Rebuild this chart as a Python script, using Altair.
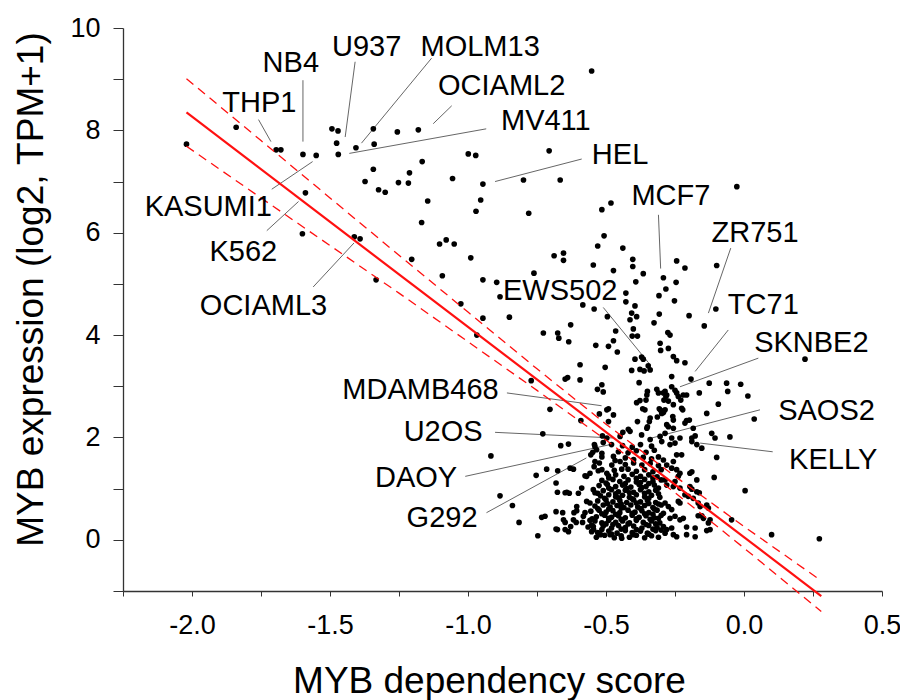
import altair as alt
import pandas as pd

# ---------------- data ----------------
points_upper_left = [
    (-2.02, 7.73), (-1.84, 8.06), (-1.695, 7.62), (-1.678, 7.62), (-1.598, 7.53), (-1.550, 7.51), (-1.589, 6.78), (-1.600, 5.98),
    (-1.493, 8.03), (-1.471, 7.99), (-1.476, 7.75), (-1.470, 7.53), (-1.406, 7.66), (-1.343, 8.03), (-1.340, 7.73), (-1.256, 7.97),
    (-1.180, 8.01), (-1.343, 7.24), (-1.373, 7.00), (-1.324, 6.84), (-1.300, 6.79), (-1.252, 6.98), (-1.216, 6.97), (-1.212, 7.17),
    (-1.166, 7.39), (-1.146, 6.62), (-1.168, 6.20), (-1.412, 5.92), (-1.391, 5.88), (-1.333, 5.08), (-1.204, 5.48), (-1.103, 5.78),
    (-1.079, 5.86), (-1.093, 5.16),
]

points_mid = [
    (-1.056, 7.06), (-0.999, 7.54), (-0.972, 7.51), (-0.706, 7.60), (-0.552, 9.16), (-0.946, 6.95), (-0.799, 7.03), (-0.666, 7.03),
    (-0.954, 6.64), (-0.971, 6.42), (-0.780, 6.38), (-0.482, 6.58), (-0.515, 6.45), (-0.026, 6.90), (-1.050, 5.78), (-0.990, 5.51),
    (-0.507, 5.94), (-0.530, 5.74), (-0.439, 5.70), (-0.688, 5.55), (-0.654, 5.60), (-0.654, 5.46), (-0.403, 5.48), (-0.403, 5.34),
    (-0.546, 5.37), (-0.473, 5.26), (-0.365, 5.20), (-0.292, 5.12), (-0.244, 5.45), (-0.214, 5.31), (-0.246, 5.03), (-0.283, 4.90),
    (-0.308, 4.77), (-0.252, 4.67), (-0.099, 5.36), (-0.102, 4.51), (-0.144, 4.18), (-0.199, 4.38), (-0.307, 4.41), (-0.326, 4.24),
    (-0.392, 5.04), (-0.428, 4.82), (-0.428, 4.65), (-0.395, 4.57), (-0.407, 4.43), (-0.389, 4.36), (-0.413, 4.30), (-0.946, 5.08),
    (-0.896, 5.03), (-0.884, 4.75), (-0.761, 5.21), (-1.026, 4.61), (-0.946, 4.33), (-0.850, 4.35), (-0.584, 4.59), (-0.543, 4.51),
    (-0.495, 4.36), (-0.628, 4.20), (-0.727, 4.04), (-0.675, 4.04), (-0.671, 3.94), (-0.635, 3.87), (-0.537, 3.80), (-0.465, 4.08),
    (-0.473, 3.89), (-0.304, 3.84), (-0.274, 3.74), (-0.276, 4.05), (-0.268, 4.00), (-0.401, 4.12),
    (-0.968, 4.00), (-0.771, 3.11), (0.221, 3.53),
]

points_cluster_upper = [
    (-0.491, 3.78), (-0.459, 3.67), (-0.405, 3.98), (-0.386, 3.98), (-0.302, 3.70), (-0.256, 3.58), (-0.244, 3.50), (-0.214, 3.46),
    (-0.395, 3.53), (-0.371, 3.57), (-0.365, 3.53), (-0.407, 3.31), (-0.377, 3.33), (-0.362, 3.30), (-0.347, 3.40), (-0.340, 3.32),
    (-0.594, 3.42), (-0.503, 3.37), (-0.648, 3.14), (-0.639, 3.17), (-0.594, 3.125), (-0.515, 3.03), (-0.531, 2.94), (-0.510, 2.89),
    (-0.380, 3.07), (-0.350, 2.90), (-0.352, 2.83), (-0.316, 2.94), (-0.310, 2.87), (-0.292, 2.87), (-0.280, 2.83), (-0.355, 2.73),
    (-0.290, 2.73), (-0.389, 2.68), (-0.377, 2.72), (-0.367, 2.56), (-0.359, 2.54), (-0.307, 2.56), (-0.302, 2.53), (-0.292, 2.49),
    (-0.286, 2.54), (-0.703, 2.55), (-0.497, 2.54), (-0.491, 2.56), (-0.524, 2.46), (-0.591, 2.33), (-0.491, 2.31), (-0.386, 2.31),
    (-0.340, 2.38), (-0.343, 2.31), (-0.314, 2.40), (-0.729, 2.07), (-0.439, 2.10), (-0.419, 2.16), (-0.413, 2.12), (-0.352, 2.18),
    (-0.350, 2.21), (-0.371, 2.05), (-0.449, 2.02), (-0.304, 2.02), (-0.286, 2.08), (-0.280, 2.25), (-0.513, 2.03), (-0.497, 1.99),
    (-0.473, 2.44), (-0.340, 1.96), (-0.480, 1.86),
    (-0.262, 3.19), (-0.262, 2.99), (-0.250, 2.92), (-0.244, 2.87), (-0.192, 3.14), (-0.126, 3.06), (-0.063, 3.06), (-0.059, 2.90),
    (-0.012, 3.04), (0.014, 2.81), (-0.162, 2.87), (-0.093, 2.65), (-0.135, 2.47), (0.037, 2.36), (-0.286, 2.90), (-0.283, 2.80),
    (-0.274, 2.71), (-0.238, 2.80), (-0.229, 2.73), (-0.220, 2.83), (-0.208, 2.83), (-0.256, 2.64), (-0.226, 2.57), (-0.222, 2.54),
    (-0.298, 2.47), (-0.258, 2.41), (-0.256, 2.34), (-0.208, 2.33), (-0.198, 2.34), (-0.214, 2.28), (-0.184, 2.18), (-0.274, 2.21),
    (-0.256, 2.18), (-0.262, 1.99), (-0.232, 1.99), (-0.189, 1.99), (-0.117, 2.08), (-0.105, 1.99), (-0.051, 2.01), (-0.171, 1.86),
    (-0.177, 2.03), (-0.099, 1.61), (-0.108, 1.22),
]

points_lower = [
    (0.004, 0.96), (-0.045, 0.39), (0.100, 0.10), (0.273, 0.02), (-0.917, 1.64), (-0.884, 0.86), (-0.839, 0.67), (-0.815, 0.34),
    (-0.747, 0.08), (-0.753, 1.26), (-0.715, 1.38), (-0.675, 1.35), (-0.664, 1.84), (-0.636, 1.87), (-0.681, 1.11), (-0.676, 0.93),
    (-0.733, 0.44), (-0.721, 0.46), (-0.681, 0.55), (-0.676, 0.20), (-0.648, 0.20), (-0.636, 0.16), (-0.642, 0.93), (-0.616, 0.53),
    (-0.606, 0.65), (-0.600, 0.91), (-0.588, 1.01), (-0.570, 1.24), (-0.558, 1.30), (-0.540, 1.82), (-0.534, 1.76), (-0.515, 1.69),
    (-0.555, 1.66), (-0.548, 1.71), (-0.515, 1.62), (-0.630, 1.40), (-0.618, 1.38), (-0.542, 1.86), (-0.510, 1.90), (-0.540, 1.53),
    (-0.524, 1.50), (-0.515, 1.37), (-0.528, 1.35), (-0.543, 1.43), (-0.473, 1.63), (-0.467, 1.55), (-0.479, 1.46), (-0.449, 1.53),
    (-0.443, 1.38), (-0.497, 1.30), (-0.491, 1.25), (-0.576, 1.25), (-0.648, 0.92), (-0.633, 0.91), (-0.546, 0.98), (-0.540, 0.92),
    (-0.570, 0.75), (-0.558, 0.72), (-0.606, 0.57), (-0.657, 0.53), (-0.654, 0.39), (-0.648, 0.34), (-0.618, 0.39), (-0.608, 0.34),
    (-0.582, 0.46), (-0.576, 0.53), (-0.558, 0.38), (-0.552, 0.29), (-0.681, 0.21), (-0.628, 0.26), (-0.552, 0.16), (-0.546, 0.26),
    (-0.515, 0.20), (-0.485, 0.10), (-0.443, 0.03),
]

points_right_core = [
    (-0.298, 1.92), (-0.268, 1.86), (-0.250, 1.89), (-0.189, 1.92), (-0.153, 1.79), (-0.244, 1.66), (-0.226, 1.66), (-0.292, 1.56),
    (-0.280, 1.46), (-0.256, 1.53), (-0.262, 1.40), (-0.244, 1.37), (-0.196, 1.30), (-0.189, 1.33), (-0.232, 1.30), (-0.238, 1.24),
    (-0.171, 1.17), (-0.286, 1.17), (-0.280, 1.07), (-0.250, 1.14), (-0.256, 1.04), (-0.232, 1.01), (-0.196, 1.04), (-0.189, 0.99),
    (-0.171, 0.94), (-0.162, 0.92), (-0.214, 0.88), (-0.202, 0.85), (-0.184, 0.81), (-0.166, 0.72), (-0.159, 0.65), (-0.135, 0.68),
    (-0.129, 0.62), (-0.238, 0.75), (-0.232, 0.72), (-0.286, 0.72), (-0.274, 0.65), (-0.262, 0.59), (-0.292, 0.52), (-0.268, 0.42),
    (-0.250, 0.46), (-0.232, 0.39), (-0.220, 0.42), (-0.166, 0.47), (-0.153, 0.47), (-0.147, 0.42), (-0.123, 0.39), (-0.129, 0.33),
    (-0.208, 0.25), (-0.177, 0.23), (-0.135, 0.18), (-0.123, 0.20), (-0.292, 0.26), (-0.280, 0.20), (-0.262, 0.23), (-0.286, 0.13),
    (-0.256, 0.10), (-0.244, 0.06), (-0.208, 0.10), (-0.177, 0.06),
]

points_core = [
    (-0.535, 0.05), (-0.505, 0.09), (-0.47, 0.04), (-0.445, 0.08), (-0.415, 0.05), (-0.39, 0.09), (-0.36, 0.04), (-0.335, 0.08), (-0.31, 0.05),
    (-0.53, 0.14), (-0.49, 0.17), (-0.46, 0.13), (-0.43, 0.18), (-0.405, 0.14), (-0.375, 0.17), (-0.35, 0.13), (-0.32, 0.18),
    (-0.565, 0.25), (-0.51, 0.27), (-0.48, 0.23), (-0.455, 0.28), (-0.43, 0.24), (-0.40, 0.27), (-0.37, 0.23), (-0.345, 0.28), (-0.315, 0.24),
    (-0.585, 0.34), (-0.54, 0.37), (-0.515, 0.33), (-0.49, 0.38), (-0.465, 0.34), (-0.44, 0.37), (-0.415, 0.33), (-0.39, 0.38), (-0.365, 0.34),
    (-0.335, 0.37), (-0.305, 0.33),
    (-0.535, 0.45), (-0.505, 0.48), (-0.48, 0.44), (-0.455, 0.47), (-0.43, 0.43), (-0.405, 0.48), (-0.38, 0.44), (-0.355, 0.47), (-0.325, 0.43),
    (-0.30, 0.48),
    (-0.555, 0.56), (-0.525, 0.58), (-0.50, 0.54), (-0.475, 0.57), (-0.45, 0.53), (-0.42, 0.58), (-0.395, 0.54), (-0.37, 0.57), (-0.345, 0.53),
    (-0.315, 0.58),
    (-0.54, 0.66), (-0.51, 0.68), (-0.485, 0.64), (-0.46, 0.67), (-0.435, 0.63), (-0.41, 0.68), (-0.385, 0.64), (-0.36, 0.67), (-0.33, 0.63),
    (-0.30, 0.68),
    (-0.53, 0.76), (-0.50, 0.78), (-0.475, 0.74), (-0.45, 0.77), (-0.425, 0.73), (-0.40, 0.78), (-0.375, 0.74), (-0.35, 0.77), (-0.32, 0.73),
    (-0.52, 0.86), (-0.49, 0.88), (-0.465, 0.84), (-0.44, 0.87), (-0.415, 0.83), (-0.39, 0.88), (-0.36, 0.84), (-0.335, 0.87), (-0.305, 0.83),
    (-0.51, 0.96), (-0.48, 0.98), (-0.455, 0.94), (-0.43, 0.97), (-0.40, 0.93), (-0.375, 0.98), (-0.345, 0.94), (-0.32, 0.97),
    (-0.525, 1.06), (-0.495, 1.08), (-0.465, 1.04), (-0.44, 1.07), (-0.41, 1.03), (-0.38, 1.08), (-0.355, 1.04), (-0.325, 1.07),
    (-0.515, 1.16), (-0.475, 1.18), (-0.45, 1.14), (-0.42, 1.17), (-0.39, 1.13), (-0.36, 1.18), (-0.33, 1.14), (-0.30, 1.17),
    (-0.465, 1.27), (-0.435, 1.24), (-0.405, 1.28), (-0.375, 1.24), (-0.345, 1.27), (-0.315, 1.23),
    (-0.47, 1.36), (-0.42, 1.38), (-0.39, 1.34), (-0.36, 1.37), (-0.33, 1.33), (-0.30, 1.37),
    (-0.43, 1.47), (-0.40, 1.50), (-0.37, 1.46), (-0.34, 1.49), (-0.31, 1.45),
    (-0.43, 1.60), (-0.40, 1.57), (-0.365, 1.61), (-0.335, 1.58), (-0.31, 1.62),
    (-0.455, 1.72), (-0.42, 1.70), (-0.39, 1.74), (-0.355, 1.71), (-0.325, 1.75),
    (-0.44, 1.84), (-0.405, 1.81), (-0.375, 1.86), (-0.335, 1.83),
]

points_core_fill = [
    (-0.52, 0.10), (-0.48, 0.11), (-0.40, 0.10), (-0.345, 0.11),
    (-0.545, 0.20), (-0.445, 0.21), (-0.39, 0.20), (-0.33, 0.21), (-0.30, 0.19),
    (-0.50, 0.31), (-0.475, 0.30), (-0.42, 0.31), (-0.355, 0.30), (-0.32, 0.31),
    (-0.55, 0.41), (-0.49, 0.42), (-0.445, 0.40), (-0.39, 0.41), (-0.34, 0.40), (-0.31, 0.42),
    (-0.515, 0.51), (-0.465, 0.50), (-0.405, 0.52), (-0.36, 0.51), (-0.33, 0.50),
    (-0.53, 0.61), (-0.49, 0.60), (-0.445, 0.62), (-0.375, 0.61), (-0.325, 0.60),
    (-0.495, 0.71), (-0.445, 0.70), (-0.39, 0.72), (-0.345, 0.71), (-0.31, 0.70),
    (-0.505, 0.81), (-0.455, 0.82), (-0.405, 0.80), (-0.345, 0.81),
    (-0.53, 0.91), (-0.465, 0.90), (-0.415, 0.92), (-0.36, 0.91), (-0.31, 0.90),
    (-0.49, 1.01), (-0.425, 1.00), (-0.37, 1.02), (-0.31, 1.01),
    (-0.50, 1.11), (-0.43, 1.10), (-0.375, 1.12), (-0.345, 1.10),
    (-0.49, 1.21), (-0.39, 1.20), (-0.33, 1.21),
]

# regression fit and its confidence band
fit_x = [-2.02, 0.28]
fit_y = [8.35, -1.10]
band_x = [-2.02, -1.75, -1.5, -1.25, -1.0, -0.75, -0.5, -0.25, 0.0, 0.28]
band_upper = [9.01, 7.80, 6.68, 5.56, 4.45, 3.34, 2.26, 1.24, 0.26, -0.80]
band_lower = [7.69, 6.68, 5.75, 4.82, 3.87, 2.92, 1.95, 0.92, -0.16, -1.40]

# cell-line labels (text centre) and leader lines
label_names = ["THP1", "NB4", "U937", "MOLM13", "OCIAML2", "MV411", "HEL", "MCF7", "ZR751", "TC71", "SKNBE2",
               "SAOS2", "KELLY", "EWS502", "MDAMB468", "U2OS", "DAOY", "G292", "KASUMI1", "K562", "OCIAML3"]
label_x = [-1.756, -1.642, -1.367, -0.956, -0.878, -0.718, -0.449, -0.265, 0.040, 0.070, 0.244,
           0.299, 0.323, -0.666, -1.172, -1.090, -1.188, -1.094, -1.941, -1.814, -1.741]
label_y = [8.53, 9.32, 9.63, 9.63, 8.87, 8.19, 7.51, 6.71, 5.99, 4.58, 3.84,
           2.51, 1.56, 4.87, 2.92, 2.10, 1.20, 0.42, 6.51, 5.63, 4.56]
lead_x1 = [-1.759, -1.598, -1.409, -1.132, -1.059, -0.934, -0.588, -0.310, -0.048, -0.057, 0.052,
           0.058, 0.104, -0.510, -0.859, -0.902, -1.010, -0.933, -1.711, -1.729, -1.561]
lead_y1 = [8.21, 8.98, 9.34, 9.41, 8.48, 8.03, 7.44, 6.35, 5.70, 4.10, 3.55,
           2.54, 1.72, 4.54, 2.87, 2.10, 1.24, 0.53, 6.85, 6.04, 4.94]
lead_x2 = [-1.714, -1.598, -1.445, -1.386, -1.126, -1.430, -0.902, -0.302, -0.129, -0.177, -0.232,
           -0.334, -0.159, -0.340, -0.516, -0.475, -0.485, -0.571, -1.563, -1.614, -1.413]
lead_y2 = [7.78, 7.78, 7.87, 7.75, 8.13, 7.55, 7.00, 5.30, 4.43, 3.29, 2.99,
           1.99, 1.89, 3.42, 2.62, 1.99, 1.86, 1.60, 7.39, 6.61, 5.80]

x_ticks = [-2.25, -2.0, -1.75, -1.5, -1.25, -1.0, -0.75, -0.5, -0.25, 0.0, 0.25, 0.5]
y_ticks = [-1, 0, 1, 2, 3, 4, 5, 6, 7, 8, 9, 10]

# ---------------- tables ----------------
all_points = (points_upper_left + points_mid + points_cluster_upper + points_lower
              + points_right_core + points_core + points_core_fill)
df_pts = pd.DataFrame(all_points, columns=["score", "expr"])
df_fit = pd.DataFrame({"score": fit_x, "expr": fit_y})
df_band = pd.DataFrame({
    "score": band_x + band_x,
    "expr": band_upper + band_lower,
    "side": ["upper"] * len(band_x) + ["lower"] * len(band_x),
})
df_lab = pd.DataFrame({"name": label_names, "score": label_x, "expr": label_y})
df_lead = pd.DataFrame({"score": lead_x1, "expr": lead_y1, "score2": lead_x2, "expr2": lead_y2})

FONT = "Liberation Sans"
xscale = alt.Scale(domain=[-2.25, 0.5], nice=False, zero=False)
yscale = alt.Scale(domain=[-1, 10], nice=False, zero=False)

common_axis = dict(
    grid=False, domainColor="#333333", domainWidth=1.3, tickColor="#333333", tickWidth=1,
    labelFont=FONT, labelFontSize=27, labelColor="black", labelOverlap=False, labelFlush=False,
    labelBound=False, titleFont=FONT, titleFontSize=37, titleFontWeight="normal", titleColor="black",
)
xaxis = alt.Axis(
    values=x_ticks, tickSize=5, labelPadding=16,
    labelExpr="abs(datum.value*2 - round(datum.value*2)) < 0.001 ? (datum.value < 0 ? '-' : '') + format(abs(datum.value), '.1f') : ''",
    title="MYB dependency score", titleX=366, titleY=101, titleAlign="center", titleBaseline="alphabetic",
    **common_axis,
)
yaxis = alt.Axis(
    values=y_ticks, tickSize=10, labelPadding=13,
    labelExpr="datum.value % 2 == 0 ? format(datum.value, 'd') : ''",
    title="MYB expression (log2, TPM+1)", titleAngle=270, titleX=-81, titleY=261,
    titleAlign="center", titleBaseline="alphabetic",
    **common_axis,
)


def X(field):
    return alt.X(field, type="quantitative", scale=xscale, axis=xaxis)


def Y(field):
    return alt.Y(field, type="quantitative", scale=yscale, axis=yaxis)


leaders = alt.Chart(df_lead).mark_rule(color="#555555", strokeWidth=0.9).encode(
    x=X("score"), y=Y("expr"), x2="score2", y2="expr2"
)
points = alt.Chart(df_pts).mark_circle(size=32, color="black", opacity=1).encode(
    x=X("score"), y=Y("expr")
)
band = alt.Chart(df_band).mark_line(color="#ff1010", strokeWidth=1.3, strokeDash=[9, 6]).encode(
    x=X("score"), y=Y("expr"), detail="side:N"
)
fit = alt.Chart(df_fit).mark_line(color="#ff1010", strokeWidth=2.2).encode(
    x=X("score"), y=Y("expr")
)
labels = alt.Chart(df_lab).mark_text(font=FONT, fontSize=29, color="black", align="center", baseline="middle").encode(
    x=X("score"), y=Y("expr"), text="name:N"
)

chart = alt.layer(leaders, points, band, fit, labels).properties(
    width=759, height=563,
    autosize=alt.AutoSizeParams(type="none"),
    padding={"left": 123, "top": 28, "right": 18, "bottom": 109},
    background="white",
).configure_view(stroke=None)

chart.save("out.html", embed_options={"renderer": "svg", "actions": False})
